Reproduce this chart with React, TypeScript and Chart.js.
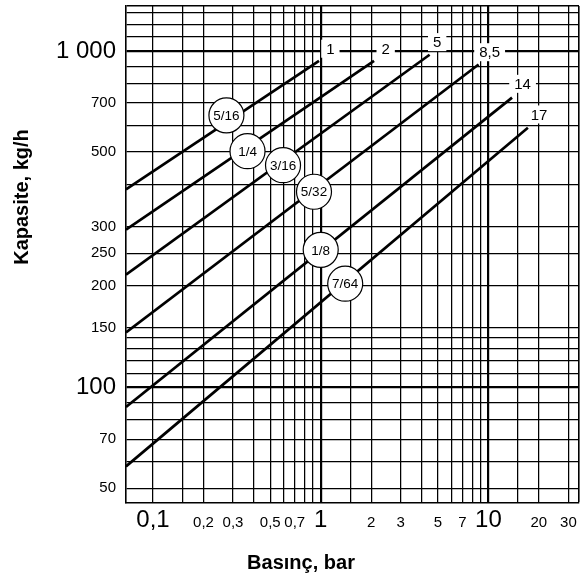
import { useEffect, useRef } from 'react';
import { Chart, registerables } from 'chart.js';

Chart.register(...registerables);

// Axis ranges (log-log)
const X_MIN = 0.069;
const X_MAX = 34.7;
const Y_MIN = 45.2;
const Y_MAX = 1360;

// Grid lines and tick labels
const X_GRID = [0.1, 0.15, 0.2, 0.3, 0.4, 0.5, 0.6, 0.7, 0.8, 0.9, 1, 1.5, 2, 3, 4, 5, 6, 7, 8, 9, 10, 15, 20, 30];
const X_LABELS = [0.1, 0.2, 0.3, 0.5, 0.7, 1, 2, 3, 5, 7, 10, 20, 30];
const X_BIG = [0.1, 1, 10];
const X_MAJOR = [1, 10];
const Y_GRID = [50, 60, 70, 80, 90, 100, 110, 120, 130, 140, 150, 200, 250, 300, 400, 500, 600, 700, 800, 900, 1000, 1100, 1200, 1300];
const Y_LABELS = [50, 70, 100, 150, 200, 250, 300, 500, 700, 1000];
const Y_BIG = [100, 1000];
const Y_MAJOR = [100, 1000];

// Orifice lines: start / end (pressure bar, capacity kg/h)
const START_P = [0.069, 0.069, 0.069, 0.069, 0.069, 0.069];
const START_Q = [387, 294, 216, 145.4, 87.2, 58.1];
const END_P = [0.977, 2.08, 4.46, 8.74, 13.84, 17.2];
const END_Q = [934, 934, 974, 911, 726, 591];

// End labels of each line
const SERIES_LABELS = ['1', '2', '5', '8,5', '14', '17'];
const LABEL_P = [1.142, 2.44, 4.95, 10.17, 15.99, 20.05];
const LABEL_Q = [1015, 1012, 1062, 991, 798, 647];

// Orifice circles
const ORIFICES = ['5/16', '1/4', '3/16', '5/32', '1/8', '7/64'];
const ORIFICE_P = [0.274, 0.366, 0.596, 0.912, 1.0, 1.40];
const ORIFICE_Q = [643, 503, 457, 381, 256, 203];

const X_TITLE = 'Basınç, bar';
const Y_TITLE = 'Kapasite, kg/h';

const SANS = '"Liberation Sans", Arial, sans-serif';

const fmt = (v: number) => {
  if (v === 1000) return '1 000';
  return String(v).replace('.', ',');
};

const overlay = {
  id: 'overlay',
  afterDatasetsDraw(chart: any) {
    const { ctx, scales, chartArea } = chart;
    const x = scales.x;
    const y = scales.y;
    ctx.save();
    ctx.textAlign = 'center';
    ctx.textBaseline = 'middle';
    ctx.font = `15px ${SANS}`;
    SERIES_LABELS.forEach((t, i) => {
      const px = x.getPixelForValue(LABEL_P[i]);
      const py = y.getPixelForValue(LABEL_Q[i]);
      const w = ctx.measureText(t).width + 10;
      ctx.fillStyle = '#fff';
      ctx.fillRect(px - w / 2, py - 9, w, 18);
      ctx.fillStyle = '#000';
      ctx.fillText(t, px, py + 1);
    });
    ctx.font = `13.5px ${SANS}`;
    ORIFICES.forEach((t, i) => {
      const px = x.getPixelForValue(ORIFICE_P[i]);
      const py = y.getPixelForValue(ORIFICE_Q[i]);
      ctx.fillStyle = '#000';
      ctx.fillText(t, px, py + 1);
    });
    ctx.font = `bold 20px ${SANS}`;
    ctx.fillText(X_TITLE, chartArea.left + 175, 563);
    ctx.translate(22, chartArea.top + 191);
    ctx.rotate(-Math.PI / 2);
    ctx.fillText(Y_TITLE, 0, 0);
    ctx.restore();
  },
};

export default function App() {
  const ref = useRef<HTMLCanvasElement | null>(null);

  useEffect(() => {
    if (!ref.current) return;
    const lineSets = START_P.map((_, i) => ({
      label: SERIES_LABELS[i],
      data: [
        { x: START_P[i], y: START_Q[i] },
        { x: END_P[i], y: END_Q[i] },
      ],
      showLine: true,
      borderColor: '#000',
      borderWidth: 2.7,
      pointRadius: 0,
      order: 1,
    }));
    const circles = {
      label: 'orifices',
      data: ORIFICE_P.map((p, i) => ({ x: p, y: ORIFICE_Q[i] })),
      showLine: false,
      pointRadius: 17.5,
      pointBackgroundColor: '#fff',
      pointBorderColor: '#000',
      pointBorderWidth: 1.2,
      order: 0,
    };

    const chart = new Chart(ref.current, {
      type: 'scatter',
      data: { datasets: [circles as any, ...lineSets] },
      options: {
        animation: false,
        responsive: false,
        devicePixelRatio: 1,
        layout: { autoPadding: false, padding: { left: 0, right: 2, top: 6, bottom: 0 } },
        plugins: { legend: { display: false }, tooltip: { enabled: false } },
        scales: {
          x: {
            type: 'logarithmic',
            min: X_MIN,
            max: X_MAX,
            afterBuildTicks: (s: any) => {
              s.ticks = [...X_GRID, X_MAX].map((v) => ({ value: v }));
            },
            afterFit: (s: any) => {
              s.height = 77;
              s.paddingLeft = 0;
              s.paddingRight = 0;
            },
            grid: {
              drawTicks: false,
              color: '#000',
              lineWidth: (c: any) => {
                const v = c.tick ? c.tick.value : 0;
                if (X_MAJOR.includes(v)) return 2.2;
                if (v === X_MAX) return 1.6;
                return 1.25;
              },
            },
            border: { display: true, color: '#000', width: 1.6 },
            ticks: {
              autoSkip: false,
              maxRotation: 0,
              minRotation: 0,
              padding: 0,
              color: '#000',
              font: (c: any) => {
                const v = c.tick ? c.tick.value : 0;
                const big = X_BIG.includes(v);
                return big
                  ? { family: SANS, size: 24, lineHeight: '34px' }
                  : { family: SANS, size: 15, lineHeight: '40px' };
              },
              callback: (v: any) => (X_LABELS.includes(Number(v)) ? fmt(Number(v)) : ''),
            },
          },
          y: {
            type: 'logarithmic',
            min: Y_MIN,
            max: Y_MAX,
            afterBuildTicks: (s: any) => {
              s.ticks = [...Y_GRID, Y_MAX].map((v) => ({ value: v }));
            },
            afterFit: (s: any) => {
              s.width = 126;
              s.paddingTop = 0;
              s.paddingBottom = 0;
            },
            grid: {
              drawTicks: false,
              color: '#000',
              lineWidth: (c: any) => {
                const v = c.tick ? c.tick.value : 0;
                if (Y_MAJOR.includes(v)) return 2.2;
                if (v === Y_MAX) return 1.6;
                return 1.25;
              },
            },
            border: { display: true, color: '#000', width: 1.6 },
            ticks: {
              autoSkip: false,
              padding: 10,
              color: '#000',
              font: (c: any) => {
                const v = c.tick ? c.tick.value : 0;
                return { family: SANS, size: Y_BIG.includes(v) ? 24 : 15 };
              },
              callback: (v: any) => (Y_LABELS.includes(Number(v)) ? fmt(Number(v)) : ''),
            },
          },
        },
      },
      plugins: [overlay],
    });
    return () => chart.destroy();
  }, []);

  return (
    <div style={{ position: 'fixed', left: 0, top: 0, width: 581, height: 580, background: '#fff' }}>
      <canvas ref={ref} width={581} height={580} style={{ display: 'block' }} />
    </div>
  );
}
